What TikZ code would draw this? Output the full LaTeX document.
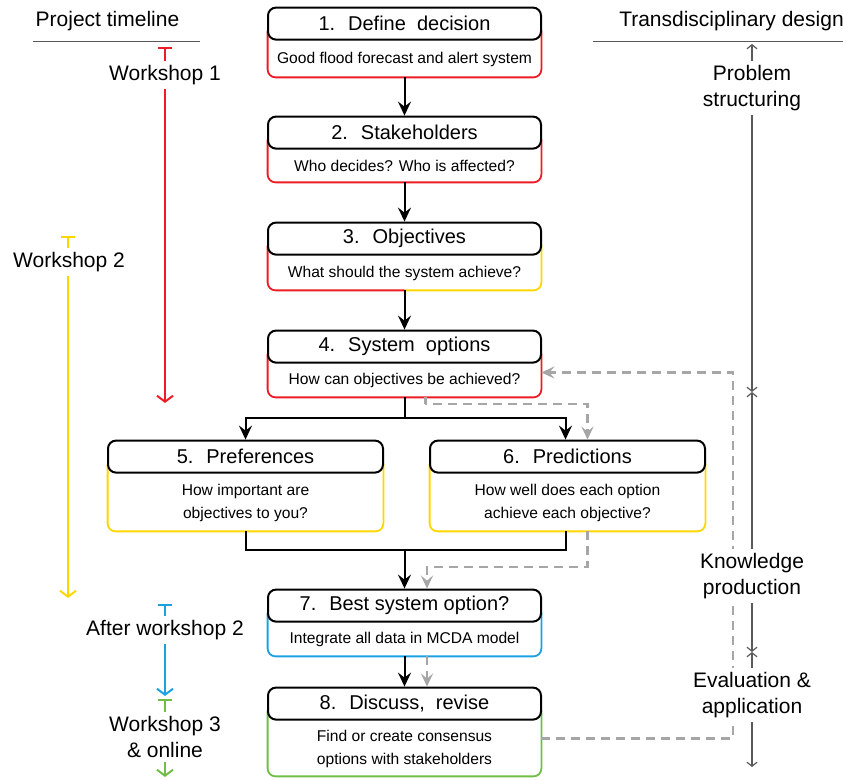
\documentclass[tikz,border=0pt]{standalone}
\usepackage{fontspec}
\setmainfont{Liberation Sans}
\usetikzlibrary{arrows.meta,positioning}
\definecolor{tlred}{RGB}{237,28,36}
\definecolor{tlyellow}{RGB}{255,214,0}
\definecolor{tlblue}{RGB}{27,161,226}
\definecolor{tlgreen}{RGB}{112,190,68}
\definecolor{dashgray}{RGB}{166,166,166}
\definecolor{axisgray}{RGB}{90,90,90}
\tikzset{
  head/.style={draw, fill=white, rounded corners=4pt, line width=1pt,
    minimum width=136.5pt, minimum height=16pt, inner sep=0pt,
    font=\fontsize{10}{12}\selectfont},
  body/.style={minimum width=136.5pt, inner sep=0pt, align=center,
    font=\fontsize{7.8}{11.5}\selectfont},
  rim/.style={line width=0.9pt, rounded corners=4pt},
  flow/.style={line width=1pt, -{Stealth[length=7pt,width=6.5pt,inset=2.5pt]}},
  back/.style={dashgray, line width=1.2pt, dash pattern=on 4.5pt off 3pt,
    -{Stealth[length=6.5pt,width=6pt,inset=2.5pt]}},
  period/.style={line width=1pt, {Bar[width=7pt]}-},
  periodend/.style={line width=1pt, -{Straight Barb[length=3pt,width=8pt]}},
  side/.style={font=\fontsize{10.5}{13}\selectfont, align=center,
    fill=white, inner sep=2pt},
  title/.style={side, fill=none, minimum height=20pt},
  phase/.style={axisgray, line width=0.6pt,
    -{Straight Barb[length=2pt,width=5pt]}},
}
\begin{document}
\begin{tikzpicture}[x=0.5pt, y=-0.5pt]
  \useasboundingbox (0,0) rectangle (843,780);

  % steps: lower part first, header on top
  \node[body, minimum height=18pt] (b1) at (404.5,59) {Good flood forecast and alert system};
  \draw[rim, tlred] ([yshift=5pt]b1.north west) -- (b1.south west) -- (b1.south east) -- ([yshift=5pt]b1.north east);
  \node[head, above=0pt of b1] (h1) {1.~ Define~ decision};

  \node[body, minimum height=16pt] (b2) at (404.5,166) {Who decides? Who is affected?};
  \draw[rim, tlred] ([yshift=5pt]b2.north west) -- (b2.south west) -- (b2.south east) -- ([yshift=5pt]b2.north east);
  \node[head, above=0pt of b2] (h2) {2.~ Stakeholders};

  \node[body, minimum height=17pt] (b3) at (404.5,273) {What should the system achieve?};
  \draw[rim, tlred] ([yshift=5pt]b3.north west) -- (b3.south west) -- (b3.south);
  \draw[rim, tlyellow] ([yshift=5pt]b3.north east) -- (b3.south east) -- (b3.south);
  \node[head, above=0pt of b3] (h3) {3.~ Objectives};

  \node[body, minimum height=16.5pt] (b4) at (404.5,380.5) {How can objectives be achieved?};
  \draw[rim, tlred] ([yshift=5pt]b4.north west) -- (b4.south west) -- (b4.south east) -- ([yshift=5pt]b4.north east);
  \node[head, above=0pt of b4] (h4) {4.~ System~ options};

  \node[body, minimum width=137.5pt, minimum height=28.5pt] (b5) at (245.5,502.5) {How important are\\objectives to you?};
  \draw[rim, tlyellow] ([yshift=5pt]b5.north west) -- (b5.south west) -- (b5.south east) -- ([yshift=5pt]b5.north east);
  \node[head, minimum width=137.5pt, above=0pt of b5] (h5) {5.~ Preferences};

  \node[body, minimum width=137.5pt, minimum height=28.5pt] (b6) at (567.5,502.5) {How well does each option\\achieve each objective?};
  \draw[rim, tlyellow] ([yshift=5pt]b6.north west) -- (b6.south west) -- (b6.south east) -- ([yshift=5pt]b6.north east);
  \node[head, minimum width=137.5pt, above=0pt of b6] (h6) {6.~ Predictions};

  \node[body, minimum height=16.5pt] (b7) at (404.5,639.5) {Integrate all data in MCDA model};
  \draw[rim, tlblue] ([yshift=5pt]b7.north west) -- (b7.south west) -- (b7.south east) -- ([yshift=5pt]b7.north east);
  \node[head, above=0pt of b7] (h7) {7.~ Best system option?};

  \node[body, minimum height=27.5pt] (b8) at (404.5,748.5) {Find or create consensus\\options with stakeholders};
  \draw[rim, tlgreen] ([yshift=5pt]b8.north west) -- (b8.south west) -- (b8.south east) -- ([yshift=5pt]b8.north east);
  \node[head, above=0pt of b8] (h8) {8.~ Discuss,~ revise};

  % main flow
  \foreach \a/\b in {b1/h2, b2/h3, b3/h4, b7/h8}
    \draw[flow] (\a.south) -- (\b.north);
  \coordinate (split) at (404.5,418);
  \coordinate (merge) at (404.5,550);
  \draw[line width=1pt] (b4.south) -- (split);
  \draw[flow] (split) -| (h5.north);
  \draw[flow] (split) -| ([xshift=-1pt]h6.north);
  \draw[line width=1pt] (b5.south) |- (merge) -| ([xshift=-1pt]b6.south);
  \draw[flow] (merge) -- (h7.north);

  % data and feedback
  \coordinate (g1) at (425,404);
  \coordinate (g2) at (427,567);
  \coordinate (g3) at (733,560);
  \draw[back] ([xshift=10.5pt]b4.south) |- (g1) -| ([xshift=10pt]h6.north);
  \draw[back] ([xshift=10pt]b6.south) |- (g2) -- (g2 |- h7.north);
  \draw[back] (b7.south -| g2) -- (h8.north -| g2);
  \draw[back] ([yshift=5pt]b8.east) -| (g3) |- ([yshift=4pt]b4.east);

  % project timeline
  \node[title, minimum width=83.5pt] (pt) at (116.5,21) {\hspace*{-9pt}Project timeline};
  \draw[axisgray, line width=0.7pt] (pt.south west) -- (pt.south east);

  \coordinate (r0) at (165,47);
  \coordinate (r1) at (165,403);
  \node[side] (w1) at (165,75) {Workshop 1};
  \draw[period, tlred] (r0) -- (w1.north);
  \draw[periodend, tlred] (w1.south) -- (r1);

  \coordinate (y0) at (68,236);
  \coordinate (y1) at (68,598);
  \node[side] (w2) at (69,262) {Workshop 2};
  \draw[period, tlyellow] (y0) -- (w2.north -| y0);
  \draw[periodend, tlyellow] (w2.south -| y0) -- (y1);

  \coordinate (c0) at (165,604);
  \coordinate (c1) at (165,696);
  \node[side] (aw2) at (165,630) {After workshop 2};
  \draw[period, tlblue] (c0) -- (aw2.north);
  \draw[periodend, tlblue] (aw2.south) -- (c1);

  \coordinate (e0) at (165,699);
  \coordinate (e1) at (165,777);
  \node[side] (w3) at (165,737) {Workshop 3\\\& online};
  \draw[period, tlgreen] (e0) -- (w3.north);
  \draw[periodend, tlgreen] (w3.south) -- (e1);

  % transdisciplinary design
  \node[title, minimum width=122.5pt] (td) at (720.5,21) {\hspace*{11pt}Transdisciplinary design};
  \draw[axisgray, line width=0.7pt] (td.south west) -- (td.south east);

  \coordinate (ax0) at (752,44);
  \coordinate (ax1) at (752,392);
  \coordinate (ax2) at (752,652);
  \coordinate (ax3) at (752,767);
  \node[side] (ps) at (752,88) {Problem\\structuring};
  \node[side] (kp) at (752,576) {Knowledge\\production};
  \node[side] (ea) at (752,695) {Evaluation \&\\application};
  \draw[phase] (ps.north) -- (ax0);
  \draw[phase] (ps.south) -- (ax1);
  \draw[phase] (kp.north) -- (ax1);
  \draw[phase] (kp.south) -- (ax2);
  \draw[phase] (ea.north) -- (ax2);
  \draw[phase] (ea.south) -- (ax3);
\end{tikzpicture}
\end{document}
